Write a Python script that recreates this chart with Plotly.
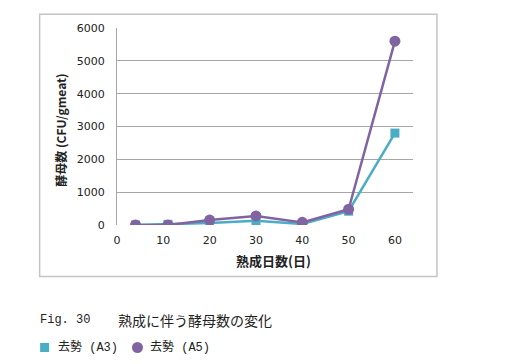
import plotly.graph_objects as go

days = [4, 11, 20, 30, 40, 50, 60]
a3_values = [0, 20, 60, 130, 30, 420, 2800]
a5_values = [0, 0, 150, 275, 80, 480, 5600]
a3_name = "去勢 (A3)"
a5_name = "去勢 (A5)"
x_ticks = [0, 10, 20, 30, 40, 50, 60]
y_ticks = [0, 1000, 2000, 3000, 4000, 5000, 6000]
x_title = "熟成日数(日)"
y_title = "酵母数 (CFU/gmeat)"
caption_fig = "Fig. 30"
caption_text = "熟成に伴う酵母数の変化"

C3 = "#4bacc6"
C5 = "#8064a2"
W, H = 513, 364
L, R, T, B = 116.5, 100, 28, 139.3
pw, ph = W - L - R, H - T - B

def px_x(p):
    return (p - L) / pw

def px_y(p):
    return (H - B - p) / ph

fig = go.Figure()
fig.add_trace(go.Scatter(x=days, y=a3_values, mode="lines+markers", name=a3_name,
                         line=dict(color=C3, width=2.5),
                         marker=dict(symbol="square", size=9, color=C3), showlegend=False))
fig.add_trace(go.Scatter(x=days, y=a5_values, mode="lines+markers", name=a5_name,
                         line=dict(color=C5, width=2.5),
                         marker=dict(symbol="circle", size=11, color=C5), showlegend=False))

fig.update_layout(
    width=W, height=H,
    margin=dict(l=L, r=R, t=T, b=B, pad=0, autoexpand=False),
    plot_bgcolor="white", paper_bgcolor="white",
    showlegend=False,
    font=dict(family="DejaVu Sans", size=11, color="#222"),
    xaxis=dict(range=[0, 63.9], tickvals=x_ticks, showgrid=False, zeroline=False,
               showline=False, ticks="", ticklabelstandoff=7, automargin=False,
               tickfont=dict(family="DejaVu Sans", size=11, color="#222")),
    yaxis=dict(range=[0, 6000], tickvals=y_ticks, showgrid=True, gridcolor="#a6a6a6",
               gridwidth=1, zeroline=False, showline=True, linecolor="#a6a6a6",
               linewidth=1, ticks="", ticklabelstandoff=9, automargin=False,
               tickfont=dict(family="DejaVu Sans", size=11, color="#222")),
)

fig.add_shape(type="rect", xref="paper", yref="paper",
              x0=px_x(39), x1=px_x(437), y0=px_y(276), y1=px_y(14.3),
              line=dict(color="#c4c4c4", width=1.5), fillcolor="rgba(0,0,0,0)", layer="below")

fig.add_annotation(text="<b>" + x_title + "</b>", xref="paper", yref="paper",
                   x=px_x(273.5), y=px_y(260), xanchor="center", yanchor="middle",
                   showarrow=False, font=dict(family="Noto Sans CJK JP", size=13, color="#222"))
fig.add_annotation(text="<b>" + y_title + "</b>", xref="paper", yref="paper",
                   x=px_x(60), y=px_y(130), xanchor="center", yanchor="middle", textangle=-90,
                   showarrow=False, font=dict(family="Noto Sans CJK JP", size=12, color="#222"))
fig.add_annotation(text=caption_fig, xref="paper", yref="paper",
                   x=px_x(37), y=px_y(320), xanchor="left", yanchor="middle",
                   showarrow=False, font=dict(family="Liberation Mono", size=12, color="#222"))
fig.add_annotation(text=caption_text, xref="paper", yref="paper",
                   x=px_x(115), y=px_y(320), xanchor="left", yanchor="middle",
                   showarrow=False, font=dict(family="Noto Sans CJK JP", size=14, color="#222"))

# legend (manual)
fig.add_shape(type="rect", xref="paper", yref="paper",
              x0=px_x(39.5), x1=px_x(48.5), y0=px_y(351.5), y1=px_y(342.5),
              line=dict(width=0), fillcolor=C3)
fig.add_shape(type="circle", xref="paper", yref="paper",
              x0=px_x(131.5), x1=px_x(142.5), y0=px_y(352.5), y1=px_y(341.5),
              line=dict(width=0), fillcolor=C5)
for name, xp in [(a3_name, 55), (a5_name, 148)]:
    fig.add_annotation(text=name, xref="paper", yref="paper",
                       x=px_x(xp), y=px_y(347), xanchor="left", yanchor="middle",
                       showarrow=False,
                       font=dict(family="Liberation Mono, Noto Sans CJK JP", size=12, color="#222"))

fig.write_html("out.html", config={"displayModeBar": False},
               post_script="document.body.style.margin='0';")
